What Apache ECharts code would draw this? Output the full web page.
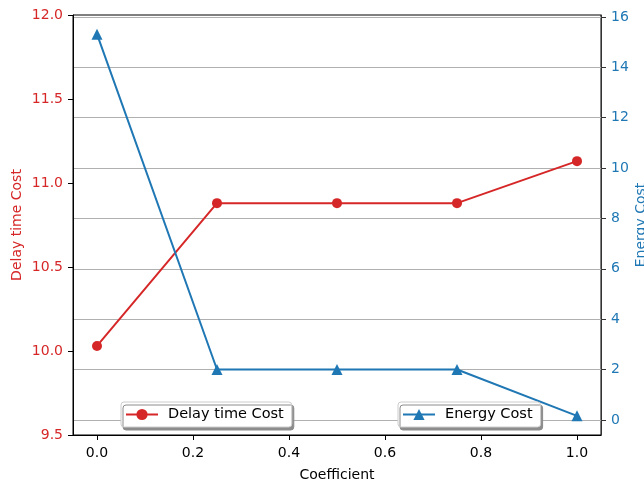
<!DOCTYPE html>
<html><head><meta charset="utf-8">
<script src="https://cdn.jsdelivr.net/npm/echarts@6/dist/echarts.min.js"></script>
<style>html,body{margin:0;padding:0;background:#fff}#c{width:644px;height:483px}</style>
</head><body><div id="c"></div>
<script>
const coefficients = [0, 0.25, 0.5, 0.75, 1.0];
const delayCost = [10.03, 10.88, 10.88, 10.88, 11.13];
const energyCost = [15.32, 2.0, 2.0, 2.0, 0.16];
const xTicks = [0, 0.2, 0.4, 0.6, 0.8, 1.0];
const energyTicks = [0, 2, 4, 6, 8, 10, 12, 14, 16];

const RED = '#d62728', BLUE = '#1f77b4';
const FONT = 'DejaVu Sans';
const chart = echarts.init(document.getElementById('c'), null, {renderer: 'canvas'});
const legendBase = {
  top: 402, itemWidth: 32, itemHeight: 14, itemGap: 6,
  padding: [5, 8, 5, 4],
  backgroundColor: '#fff', borderColor: '#cccccc', borderWidth: 1, borderRadius: 3,
  shadowColor: '#8c8c8c', shadowBlur: 0, shadowOffsetX: 2, shadowOffsetY: 3,
  textStyle: {fontFamily: FONT, fontSize: 14.5, color: '#000', padding: [0, 0, 0, 5]}
};
chart.setOption({
  animation: false,
  grid: {left: 73, right: 43, top: 15, bottom: 48, outerBoundsMode: 'none', containLabel: false,
    show: true, borderColor: '#000', borderWidth: 1, backgroundColor: 'transparent'},
  legend: [
    Object.assign({}, legendBase, {left: 121, data: ['Delay time Cost']}),
    Object.assign({}, legendBase, {left: 398, data: ['Energy Cost']})
  ],
  xAxis: {
    type: 'value', min: -0.05, max: 1.05,
    name: 'Coefficient', nameLocation: 'middle', nameGap: 33, nameMoveOverlap: false,
    nameTextStyle: {fontFamily: FONT, fontSize: 14, color: '#000'},
    axisLine: {show: true, onZero: false, lineStyle: {color: '#000', width: 1}},
    axisTick: {show: true, length: 5, customValues: xTicks, lineStyle: {color: '#000'}},
    axisLabel: {customValues: xTicks, fontFamily: FONT, fontSize: 14, color: '#000', margin: 11,
      formatter: v => Number(v).toFixed(1)},
    splitLine: {show: false}
  },
  yAxis: [
    {
      type: 'value', min: 9.5, max: 12.0, interval: 0.5, position: 'left',
      name: 'Delay time Cost', nameLocation: 'middle', nameGap: 49, nameRotate: 90, nameMoveOverlap: false,
      nameTextStyle: {fontFamily: FONT, fontSize: 14, color: RED},
      axisLine: {show: true, onZero: false, lineStyle: {color: '#000'}},
      axisTick: {show: true, length: 5, lineStyle: {color: '#000'}},
      axisLabel: {fontFamily: FONT, fontSize: 14, color: RED, margin: 10, formatter: v => Number(v).toFixed(1)},
      splitLine: {show: false}
    },
    {
      type: 'value', min: -0.6, max: 16.08, position: 'right',
      name: 'Energy Cost', nameLocation: 'middle', nameGap: 33, nameRotate: 90, nameMoveOverlap: false,
      nameTextStyle: {fontFamily: FONT, fontSize: 14, color: BLUE},
      axisLine: {show: true, onZero: false, lineStyle: {color: '#333'}},
      axisTick: {show: true, length: 5, customValues: energyTicks, lineStyle: {color: '#333'}},
      axisLabel: {customValues: energyTicks, fontFamily: FONT, fontSize: 14, color: BLUE, margin: 10},
      splitLine: {show: true, lineStyle: {color: '#b0b0b0', width: 1}}
    }
  ],
  series: [
    {
      name: 'Delay time Cost', type: 'line', yAxisIndex: 0,
      data: coefficients.map((x, i) => [x, delayCost[i]]),
      symbol: 'circle', symbolSize: 10,
      lineStyle: {color: RED, width: 2}, itemStyle: {color: RED}
    },
    {
      name: 'Energy Cost', type: 'line', yAxisIndex: 1,
      data: coefficients.map((x, i) => [x, energyCost[i]]),
      symbol: 'triangle', symbolSize: 11,
      lineStyle: {color: BLUE, width: 2}, itemStyle: {color: BLUE}
    }
  ]
});
</script></body></html>
